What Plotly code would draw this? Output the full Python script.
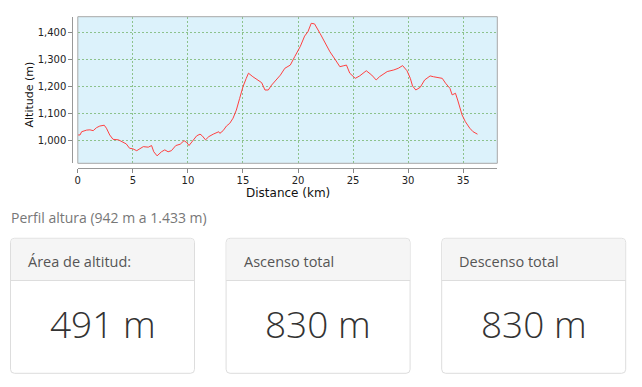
import plotly.graph_objects as go

# ---- data ----
distance_km = [0.0, 0.2, 0.35, 0.8, 1.1, 1.4, 1.7, 2.0, 2.4, 2.6, 2.9, 3.2, 3.7, 4.1, 4.4, 4.7,
               5.0, 5.35, 5.65, 5.95, 6.4, 6.7, 6.9, 7.2, 7.6, 7.9, 8.2, 8.5, 8.9, 9.3, 9.65,
               9.9, 10.1, 10.4, 10.8, 11.1, 11.3, 11.6, 11.9, 12.3, 12.8, 12.9, 13.2, 13.5,
               13.8, 14.1, 14.4, 14.7, 15.0, 15.3, 15.5, 15.9, 16.4, 16.7, 17.0, 17.3, 17.6,
               17.9, 18.4, 18.8, 19.3, 19.7, 20.2, 20.6, 20.9, 21.2, 21.5, 22.0, 22.5, 22.9,
               23.4, 23.8, 24.1, 24.4, 24.7, 25.2, 25.6, 26.2, 26.7, 27.1, 27.4, 28.1, 28.7,
               29.1, 29.5, 29.9, 30.2, 30.4, 30.7, 31.1, 31.5, 32.0, 32.3, 32.6, 33.1, 33.4,
               33.8, 34.0, 34.3, 34.5, 34.9, 35.2, 35.6, 35.9, 36.3]
altitude_m = [1021, 1021, 1033, 1039, 1040, 1037, 1048, 1054, 1057, 1046, 1021, 1005, 1003, 996,
              988, 972, 970, 963, 969, 978, 976, 982, 959, 944, 959, 966, 959, 963, 982, 987,
              1000, 993, 982, 996, 1018, 1024, 1018, 1003, 1015, 1024, 1033, 1027, 1037, 1054,
              1064, 1083, 1113, 1156, 1199, 1230, 1249, 1236, 1224, 1214, 1187, 1187, 1205,
              1218, 1242, 1267, 1279, 1310, 1347, 1386, 1402, 1433, 1431, 1396, 1359, 1328,
              1298, 1273, 1276, 1279, 1249, 1230, 1239, 1258, 1242, 1224, 1236, 1255, 1261,
              1267, 1277, 1258, 1230, 1202, 1187, 1197, 1224, 1239, 1236, 1233, 1230, 1212,
              1193, 1169, 1175, 1150, 1095, 1070, 1046, 1033, 1024]

x_ticks = [0, 5, 10, 15, 20, 25, 30, 35]
y_ticks = [1000, 1100, 1200, 1300, 1400]
y_tick_labels = ["1,000", "1,100", "1,200", "1,300", "1,400"]

x_title = "Distance (km)"
y_title = "Altitude (m)"
summary_title = "Perfil altura (942 m a 1.433 m)"
card_titles = ["Área de altitud:", "Ascenso total", "Descenso total"]
card_values = ["491 m", "830 m", "830 m"]

# ---- layout helpers ----
OFF = 8  # page body margin
W, H = 642 - OFF, 387 - OFF


def px(x):
    return (x - OFF) / W


def py(y):
    return 1 - (y - OFF) / H


fig = go.Figure()
fig.add_trace(go.Scatter(
    x=distance_km, y=altitude_m, mode="lines",
    line=dict(color="#ff4040", width=1), hoverinfo="skip", showlegend=False,
))

plot_l, plot_r, plot_t, plot_b = 77.8, 497.3, 16.7, 163.3

axis_font = dict(family="DejaVu Sans", size=10, color="#222")
grid_col = "#8cc28c"
fig.update_layout(
    width=W, height=H,
    margin=dict(l=0, r=0, t=0, b=0),
    paper_bgcolor="white",
    plot_bgcolor="#dcf2fb",
    showlegend=False,
    xaxis=dict(
        domain=[px(plot_l), px(plot_r)], range=[0, 38.1],
        anchor="free", position=py(168.3),
        tickvals=x_ticks, ticks="outside", ticklen=4, tickcolor="#888",
        ticklabelstandoff=-1,
        showline=True, linecolor="#999", linewidth=1,
        showgrid=True, gridcolor=grid_col, griddash="2px,2px", gridwidth=1,
        zeroline=False, tickfont=axis_font,
        automargin=False,
    ),
    yaxis=dict(
        domain=[py(plot_b), py(plot_t)], range=[916.5, 1457.5],
        anchor="free", position=px(72.3),
        tickvals=y_ticks, ticktext=y_tick_labels, ticks="outside", ticklen=4, tickcolor="#888",
        showline=True, linecolor="#999", linewidth=1,
        showgrid=True, gridcolor=grid_col, griddash="2px,2px", gridwidth=1,
        zeroline=False, tickfont=axis_font,
        automargin=False,
    ),
)

shapes = []
# plot outline
shapes.append(dict(type="rect", xref="paper", yref="paper",
                   x0=px(plot_l), x1=px(plot_r), y0=py(plot_b), y1=py(plot_t),
                   line=dict(color="#a8a8a8", width=1), fillcolor="rgba(0,0,0,0)", layer="above"))

annotations = []
annotations.append(dict(text=x_title, xref="paper", yref="paper", x=px((plot_l + plot_r) / 2), y=py(193),
                        xanchor="center", yanchor="middle", showarrow=False,
                        font=dict(family="DejaVu Sans", size=12, color="#111")))
annotations.append(dict(text=y_title, xref="paper", yref="paper", x=px(28.5), y=py(95),
                        xanchor="center", yanchor="middle", showarrow=False, textangle=-90,
                        font=dict(family="DejaVu Sans", size=11, color="#111")))
annotations.append(dict(text=summary_title, xref="paper", yref="paper", x=px(9), y=py(217.5),
                        xanchor="left", yanchor="middle", showarrow=False,
                        font=dict(family="Open Sans", size=14, color="#777")))

card_w = 184
card_top, head_bot, card_bot = 238.3, 280.5, 373.3
r = 4
for i, (title, val) in enumerate(zip(card_titles, card_values)):
    left = 10.5 + i * 215.6
    right = left + card_w
    # card body with rounded corners
    path = (f"M {px(left + r)},{py(card_top)} L {px(right - r)},{py(card_top)} "
            f"Q {px(right)},{py(card_top)} {px(right)},{py(card_top + r)} "
            f"L {px(right)},{py(card_bot - r)} Q {px(right)},{py(card_bot)} {px(right - r)},{py(card_bot)} "
            f"L {px(left + r)},{py(card_bot)} Q {px(left)},{py(card_bot)} {px(left)},{py(card_bot - r)} "
            f"L {px(left)},{py(card_top + r)} Q {px(left)},{py(card_top)} {px(left + r)},{py(card_top)} Z")
    shapes.append(dict(type="path", xref="paper", yref="paper", path=path,
                       fillcolor="white", line=dict(color="#dddddd", width=1), layer="below"))
    # header band
    hpath = (f"M {px(left + r + 0.5)},{py(card_top + 0.5)} L {px(right - r - 0.5)},{py(card_top + 0.5)} "
             f"Q {px(right - 0.5)},{py(card_top + 0.5)} {px(right - 0.5)},{py(card_top + r + 0.5)} "
             f"L {px(right - 0.5)},{py(head_bot)} L {px(left + 0.5)},{py(head_bot)} "
             f"L {px(left + 0.5)},{py(card_top + r + 0.5)} Q {px(left + 0.5)},{py(card_top + 0.5)} {px(left + r + 0.5)},{py(card_top + 0.5)} Z")
    shapes.append(dict(type="path", xref="paper", yref="paper", path=hpath,
                       fillcolor="#f5f5f5", line=dict(width=0), layer="below"))
    shapes.append(dict(type="line", xref="paper", yref="paper",
                       x0=px(left), x1=px(right), y0=py(head_bot), y1=py(head_bot),
                       line=dict(color="#dddddd", width=1), layer="below"))
    annotations.append(dict(text=title, xref="paper", yref="paper", x=px(left + 15.5), y=py(261.5),
                            xanchor="left", yanchor="middle", showarrow=False,
                            font=dict(family="Open Sans", size=14.5, color="#555")))
    annotations.append(dict(text=val, xref="paper", yref="paper", x=px((left + right) / 2), y=py(323.5),
                            xanchor="center", yanchor="middle", showarrow=False,
                            font=dict(family="Open Sans", size=37, color="#333", weight=300)))

fig.update_layout(shapes=shapes, annotations=annotations)
fig.write_html("out.html")
